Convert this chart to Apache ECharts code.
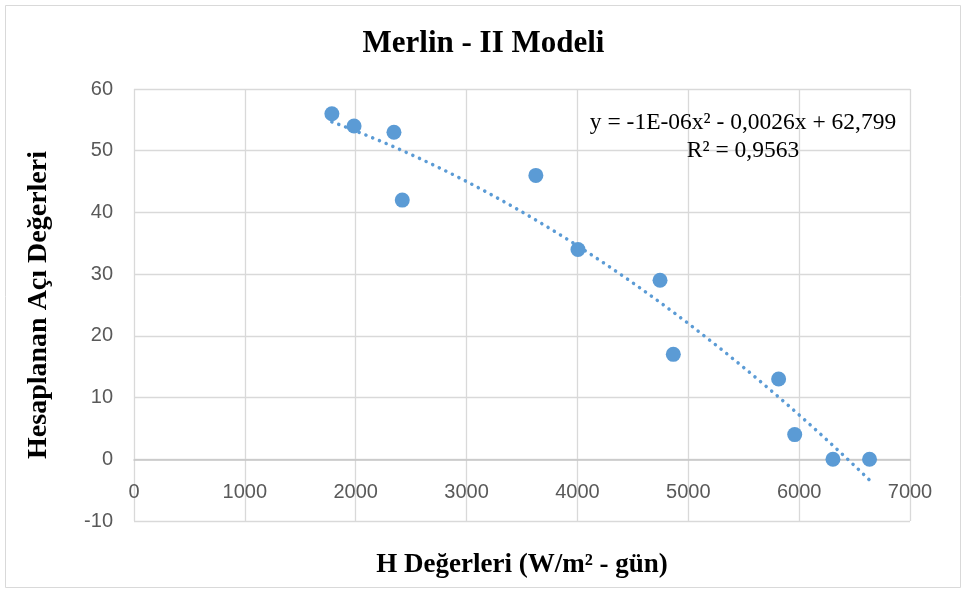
<!DOCTYPE html>
<html><head><meta charset="utf-8">
<script src="https://cdn.jsdelivr.net/npm/echarts@6/dist/echarts.min.js"></script>
<style>html,body{margin:0;padding:0;background:#fff}#c{width:967px;height:594px}</style>
</head><body><div id="c"></div>
<script>
const hValues = [1785, 1985, 2345, 2420, 3625, 4005, 4745, 4865, 5815, 5960, 6305, 6635];
const angleValues = [56, 54, 53, 42, 46, 34, 29, 17, 13, 4, 0, 0];
const xTicks = {min: 0, max: 7000, interval: 1000};
const yTicks = {min: -10, max: 60, interval: 10};
const titleText = 'Merlin - II Modeli';
const xName = 'H Değerleri (W/m² - gün)';
const yName = 'Hesaplanan Açı Değerleri';
const eqText = 'y = -1E-06x² - 0,0026x + 62,799\nR² = 0,9563';

// least-squares quadratic trendline (as Excel does) from the data
function quadFit(xs, ys) {
  const n = xs.length; let S = [0,0,0,0,0], T = [0,0,0];
  for (let i = 0; i < n; i++) {
    const x = xs[i] / 1000, y = ys[i];
    for (let k = 0; k < 5; k++) S[k] += Math.pow(x, k);
    for (let k = 0; k < 3; k++) T[k] += Math.pow(x, k) * y;
  }
  const A = [[S[0],S[1],S[2],T[0]],[S[1],S[2],S[3],T[1]],[S[2],S[3],S[4],T[2]]];
  for (let i = 0; i < 3; i++) {
    for (let j = i + 1; j < 3; j++) {
      const f = A[j][i] / A[i][i];
      for (let k = i; k < 4; k++) A[j][k] -= f * A[i][k];
    }
  }
  const c = [0,0,0];
  for (let i = 2; i >= 0; i--) {
    let s = A[i][3];
    for (let k = i + 1; k < 3; k++) s -= A[i][k] * c[k];
    c[i] = s / A[i][i];
  }
  return x => c[0] + c[1] * (x / 1000) + c[2] * Math.pow(x / 1000, 2);
}
const f = quadFit(hValues, angleValues);
const xMinD = Math.min(...hValues), xMaxD = Math.max(...hValues);
const trend = [];
for (let i = 0; i <= 60; i++) { const x = xMinD + (xMaxD - xMinD) * i / 60; trend.push([x, f(x)]); }

// plot area geometry; the label strip grid ends at the y = 0 line (Excel axis crossing)
const plot = {left: 134, right: 57, top: 89, bottom: 73};
const plotH = 594 - plot.top - plot.bottom;
const zeroY = plot.top + plotH * (yTicks.max - 0) / (yTicks.max - yTicks.min);

const labelFont = {fontFamily: 'Liberation Sans', fontSize: 20, color: '#595959'};
const chart = echarts.init(document.getElementById('c'));
chart.setOption({
  animation: false,
  backgroundColor: '#fff',
  graphic: [
    {type: 'rect', shape: {x: 5.5, y: 5.5, width: 955, height: 582}, style: {fill: 'none', stroke: '#d9d9d9', lineWidth: 1}, silent: true},
    {type: 'text', x: 743, y: 109, style: {text: eqText, fontFamily: 'Liberation Serif', fontSize: 23.5, lineHeight: 28, fill: '#000', align: 'center', verticalAlign: 'top'}, silent: true, z: 10}
  ],
  title: {text: titleText, left: 'center', top: 23, textStyle: {fontFamily: 'Liberation Serif', fontWeight: 'bold', fontSize: 31, color: '#000'}},
  grid: [
    {left: plot.left, right: plot.right, top: plot.top, bottom: plot.bottom, containLabel: false, outerBoundsMode: 'none'},
    {left: plot.left, right: plot.right, top: zeroY - 40, height: 40, containLabel: false, outerBoundsMode: 'none'}
  ],
  xAxis: [{
    gridIndex: 0, type: 'value', min: xTicks.min, max: xTicks.max, interval: xTicks.interval,
    axisLine: {show: false}, axisTick: {show: false}, axisLabel: {show: false},
    splitLine: {show: true, lineStyle: {color: '#d9d9d9', width: 1.3}}
  }, {
    gridIndex: 1, type: 'value', position: 'bottom', min: xTicks.min, max: xTicks.max, interval: xTicks.interval,
    name: xName, nameLocation: 'middle', nameGap: 92,
    nameTextStyle: {fontFamily: 'Liberation Serif', fontWeight: 'bold', fontSize: 27, color: '#000'},
    axisLine: {show: true, onZero: false, lineStyle: {color: '#c6c6c6', width: 1.5}}, axisTick: {show: false}, splitLine: {show: false},
    axisLabel: Object.assign({margin: 23, formatter: v => String(v)}, labelFont)
  }],
  yAxis: [{
    gridIndex: 0, type: 'value', min: yTicks.min, max: yTicks.max, interval: yTicks.interval,
    name: yName, nameLocation: 'middle', nameGap: 81, nameRotate: 90,
    nameTextStyle: {fontFamily: 'Liberation Serif', fontWeight: 'bold', fontSize: 28, color: '#000'},
    axisLine: {show: false, onZero: false}, axisTick: {show: false},
    axisLabel: Object.assign({margin: 21, formatter: v => String(v)}, labelFont),
    splitLine: {show: true, lineStyle: {color: '#d9d9d9', width: 1.3}}
  }, {
    gridIndex: 1, type: 'value', min: 0, max: 1, show: false
  }],
  series: [
    {type: 'line', xAxisIndex: 0, yAxisIndex: 0, data: trend, showSymbol: false, smooth: false, silent: true, z: 1,
     lineStyle: {color: '#5b9bd5', width: 3.5, type: [0.1, 7.2], cap: 'round'}},
    {type: 'scatter', xAxisIndex: 0, yAxisIndex: 0, data: hValues.map((x, i) => [x, angleValues[i]]), symbolSize: 15, z: 2,
     itemStyle: {color: '#5b9bd5', opacity: 1}}
  ]
});
</script></body></html>
